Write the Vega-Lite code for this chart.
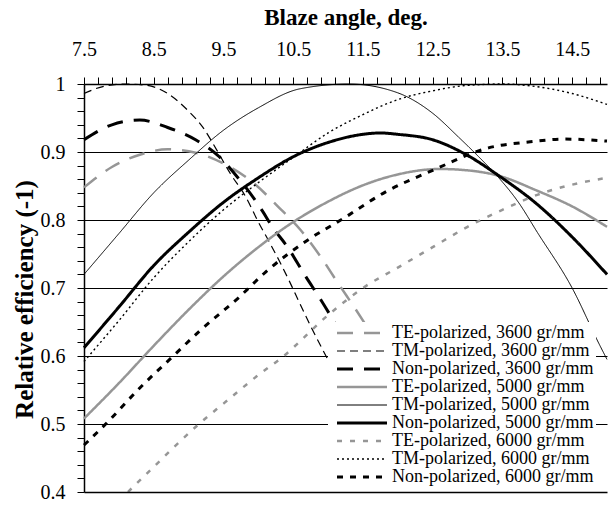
{
  "$schema": "https://vega.github.io/schema/vega-lite/v6.json",
  "width": 523,
  "height": 408,
  "autosize": {"type": "none"},
  "padding": {"left": 84, "top": 84, "right": 2, "bottom": 14},
  "background": "white",
  "config": {
    "view": {"stroke": null},
    "font": "Liberation Serif, Times New Roman, serif",
    "axis": {"domainColor": "black", "tickColor": "black", "labelColor": "black", "titleColor": "black", "labelFont": "Liberation Serif, Times New Roman, serif", "titleFont": "Liberation Serif, Times New Roman, serif"}
  },
  "data": {"values": [
    {"s": "TE-polarized, 3600 gr/mm", "angle": 7.5, "eff": 0.848},
    {"s": "TE-polarized, 3600 gr/mm", "angle": 7.9, "eff": 0.878},
    {"s": "TE-polarized, 3600 gr/mm", "angle": 8.3, "eff": 0.896},
    {"s": "TE-polarized, 3600 gr/mm", "angle": 8.7, "eff": 0.904},
    {"s": "TE-polarized, 3600 gr/mm", "angle": 9.1, "eff": 0.899},
    {"s": "TE-polarized, 3600 gr/mm", "angle": 9.5, "eff": 0.883},
    {"s": "TE-polarized, 3600 gr/mm", "angle": 9.9, "eff": 0.857},
    {"s": "TE-polarized, 3600 gr/mm", "angle": 10.3, "eff": 0.818},
    {"s": "TE-polarized, 3600 gr/mm", "angle": 10.6, "eff": 0.786},
    {"s": "TE-polarized, 3600 gr/mm", "angle": 10.9, "eff": 0.745},
    {"s": "TE-polarized, 3600 gr/mm", "angle": 11.15, "eff": 0.706},
    {"s": "TE-polarized, 3600 gr/mm", "angle": 11.4, "eff": 0.668},
    {"s": "TE-polarized, 3600 gr/mm", "angle": 11.7, "eff": 0.62},

    {"s": "TM-polarized, 3600 gr/mm", "angle": 7.5, "eff": 0.986},
    {"s": "TM-polarized, 3600 gr/mm", "angle": 7.8, "eff": 0.997},
    {"s": "TM-polarized, 3600 gr/mm", "angle": 8.1, "eff": 1.0},
    {"s": "TM-polarized, 3600 gr/mm", "angle": 8.4, "eff": 0.998},
    {"s": "TM-polarized, 3600 gr/mm", "angle": 8.7, "eff": 0.986},
    {"s": "TM-polarized, 3600 gr/mm", "angle": 9.0, "eff": 0.96},
    {"s": "TM-polarized, 3600 gr/mm", "angle": 9.2, "eff": 0.937},
    {"s": "TM-polarized, 3600 gr/mm", "angle": 9.42, "eff": 0.9},
    {"s": "TM-polarized, 3600 gr/mm", "angle": 9.6, "eff": 0.868},
    {"s": "TM-polarized, 3600 gr/mm", "angle": 9.82, "eff": 0.834},
    {"s": "TM-polarized, 3600 gr/mm", "angle": 10.0, "eff": 0.797},
    {"s": "TM-polarized, 3600 gr/mm", "angle": 10.15, "eff": 0.769},
    {"s": "TM-polarized, 3600 gr/mm", "angle": 10.3, "eff": 0.74},
    {"s": "TM-polarized, 3600 gr/mm", "angle": 10.45, "eff": 0.709},
    {"s": "TM-polarized, 3600 gr/mm", "angle": 10.6, "eff": 0.676},
    {"s": "TM-polarized, 3600 gr/mm", "angle": 10.75, "eff": 0.644},
    {"s": "TM-polarized, 3600 gr/mm", "angle": 10.97, "eff": 0.6},
    {"s": "TM-polarized, 3600 gr/mm", "angle": 11.1, "eff": 0.575},

    {"s": "Non-polarized, 3600 gr/mm", "angle": 7.5, "eff": 0.918},
    {"s": "Non-polarized, 3600 gr/mm", "angle": 7.9, "eff": 0.94},
    {"s": "Non-polarized, 3600 gr/mm", "angle": 8.3, "eff": 0.947},
    {"s": "Non-polarized, 3600 gr/mm", "angle": 8.7, "eff": 0.936},
    {"s": "Non-polarized, 3600 gr/mm", "angle": 9.1, "eff": 0.918},
    {"s": "Non-polarized, 3600 gr/mm", "angle": 9.44, "eff": 0.893},
    {"s": "Non-polarized, 3600 gr/mm", "angle": 9.66, "eff": 0.868},
    {"s": "Non-polarized, 3600 gr/mm", "angle": 9.82, "eff": 0.848},
    {"s": "Non-polarized, 3600 gr/mm", "angle": 10.06, "eff": 0.813},
    {"s": "Non-polarized, 3600 gr/mm", "angle": 10.2, "eff": 0.79},
    {"s": "Non-polarized, 3600 gr/mm", "angle": 10.42, "eff": 0.76},
    {"s": "Non-polarized, 3600 gr/mm", "angle": 10.66, "eff": 0.72},
    {"s": "Non-polarized, 3600 gr/mm", "angle": 10.9, "eff": 0.682},
    {"s": "Non-polarized, 3600 gr/mm", "angle": 11.15, "eff": 0.64},
    {"s": "Non-polarized, 3600 gr/mm", "angle": 11.4, "eff": 0.6},

    {"s": "TE-polarized, 5000 gr/mm", "angle": 7.5, "eff": 0.508},
    {"s": "TE-polarized, 5000 gr/mm", "angle": 8.0, "eff": 0.56},
    {"s": "TE-polarized, 5000 gr/mm", "angle": 8.5, "eff": 0.615},
    {"s": "TE-polarized, 5000 gr/mm", "angle": 9.0, "eff": 0.668},
    {"s": "TE-polarized, 5000 gr/mm", "angle": 9.5, "eff": 0.717},
    {"s": "TE-polarized, 5000 gr/mm", "angle": 10.0, "eff": 0.76},
    {"s": "TE-polarized, 5000 gr/mm", "angle": 10.5, "eff": 0.797},
    {"s": "TE-polarized, 5000 gr/mm", "angle": 11.0, "eff": 0.827},
    {"s": "TE-polarized, 5000 gr/mm", "angle": 11.5, "eff": 0.851},
    {"s": "TE-polarized, 5000 gr/mm", "angle": 12.0, "eff": 0.867},
    {"s": "TE-polarized, 5000 gr/mm", "angle": 12.6, "eff": 0.875},
    {"s": "TE-polarized, 5000 gr/mm", "angle": 13.0, "eff": 0.873},
    {"s": "TE-polarized, 5000 gr/mm", "angle": 13.45, "eff": 0.865},
    {"s": "TE-polarized, 5000 gr/mm", "angle": 14.0, "eff": 0.843},
    {"s": "TE-polarized, 5000 gr/mm", "angle": 14.5, "eff": 0.82},
    {"s": "TE-polarized, 5000 gr/mm", "angle": 15.0, "eff": 0.79},

    {"s": "TM-polarized, 5000 gr/mm", "angle": 7.5, "eff": 0.72},
    {"s": "TM-polarized, 5000 gr/mm", "angle": 8.0, "eff": 0.78},
    {"s": "TM-polarized, 5000 gr/mm", "angle": 8.5, "eff": 0.84},
    {"s": "TM-polarized, 5000 gr/mm", "angle": 9.0, "eff": 0.888},
    {"s": "TM-polarized, 5000 gr/mm", "angle": 9.5, "eff": 0.932},
    {"s": "TM-polarized, 5000 gr/mm", "angle": 10.0, "eff": 0.965},
    {"s": "TM-polarized, 5000 gr/mm", "angle": 10.6, "eff": 0.993},
    {"s": "TM-polarized, 5000 gr/mm", "angle": 11.3, "eff": 1.0},
    {"s": "TM-polarized, 5000 gr/mm", "angle": 12.0, "eff": 0.987},
    {"s": "TM-polarized, 5000 gr/mm", "angle": 12.5, "eff": 0.957},
    {"s": "TM-polarized, 5000 gr/mm", "angle": 12.87, "eff": 0.922},
    {"s": "TM-polarized, 5000 gr/mm", "angle": 13.16, "eff": 0.893},
    {"s": "TM-polarized, 5000 gr/mm", "angle": 13.44, "eff": 0.863},
    {"s": "TM-polarized, 5000 gr/mm", "angle": 13.73, "eff": 0.826},
    {"s": "TM-polarized, 5000 gr/mm", "angle": 14.0, "eff": 0.782},
    {"s": "TM-polarized, 5000 gr/mm", "angle": 14.5, "eff": 0.7},
    {"s": "TM-polarized, 5000 gr/mm", "angle": 14.9, "eff": 0.615},
    {"s": "TM-polarized, 5000 gr/mm", "angle": 15.0, "eff": 0.595},

    {"s": "Non-polarized, 5000 gr/mm", "angle": 7.5, "eff": 0.612},
    {"s": "Non-polarized, 5000 gr/mm", "angle": 8.0, "eff": 0.672},
    {"s": "Non-polarized, 5000 gr/mm", "angle": 8.5, "eff": 0.733},
    {"s": "Non-polarized, 5000 gr/mm", "angle": 9.0, "eff": 0.782},
    {"s": "Non-polarized, 5000 gr/mm", "angle": 9.5, "eff": 0.826},
    {"s": "Non-polarized, 5000 gr/mm", "angle": 10.0, "eff": 0.862},
    {"s": "Non-polarized, 5000 gr/mm", "angle": 10.5, "eff": 0.893},
    {"s": "Non-polarized, 5000 gr/mm", "angle": 11.0, "eff": 0.914},
    {"s": "Non-polarized, 5000 gr/mm", "angle": 11.5, "eff": 0.926},
    {"s": "Non-polarized, 5000 gr/mm", "angle": 11.75, "eff": 0.928},
    {"s": "Non-polarized, 5000 gr/mm", "angle": 12.0, "eff": 0.926},
    {"s": "Non-polarized, 5000 gr/mm", "angle": 12.5, "eff": 0.918},
    {"s": "Non-polarized, 5000 gr/mm", "angle": 13.0, "eff": 0.895},
    {"s": "Non-polarized, 5000 gr/mm", "angle": 13.45, "eff": 0.865},
    {"s": "Non-polarized, 5000 gr/mm", "angle": 14.0, "eff": 0.823},
    {"s": "Non-polarized, 5000 gr/mm", "angle": 14.5, "eff": 0.775},
    {"s": "Non-polarized, 5000 gr/mm", "angle": 15.0, "eff": 0.72},

    {"s": "TE-polarized, 6000 gr/mm", "angle": 8.13, "eff": 0.4},
    {"s": "TE-polarized, 6000 gr/mm", "angle": 8.5, "eff": 0.437},
    {"s": "TE-polarized, 6000 gr/mm", "angle": 9.16, "eff": 0.501},
    {"s": "TE-polarized, 6000 gr/mm", "angle": 9.5, "eff": 0.53},
    {"s": "TE-polarized, 6000 gr/mm", "angle": 10.0, "eff": 0.572},
    {"s": "TE-polarized, 6000 gr/mm", "angle": 10.34, "eff": 0.598},
    {"s": "TE-polarized, 6000 gr/mm", "angle": 11.0, "eff": 0.66},
    {"s": "TE-polarized, 6000 gr/mm", "angle": 11.5, "eff": 0.7},
    {"s": "TE-polarized, 6000 gr/mm", "angle": 12.0, "eff": 0.73},
    {"s": "TE-polarized, 6000 gr/mm", "angle": 12.5, "eff": 0.76},
    {"s": "TE-polarized, 6000 gr/mm", "angle": 13.0, "eff": 0.79},
    {"s": "TE-polarized, 6000 gr/mm", "angle": 13.5, "eff": 0.815},
    {"s": "TE-polarized, 6000 gr/mm", "angle": 14.0, "eff": 0.837},
    {"s": "TE-polarized, 6000 gr/mm", "angle": 14.5, "eff": 0.852},
    {"s": "TE-polarized, 6000 gr/mm", "angle": 15.0, "eff": 0.862},

    {"s": "TM-polarized, 6000 gr/mm", "angle": 7.5, "eff": 0.592},
    {"s": "TM-polarized, 6000 gr/mm", "angle": 8.0, "eff": 0.652},
    {"s": "TM-polarized, 6000 gr/mm", "angle": 8.5, "eff": 0.715},
    {"s": "TM-polarized, 6000 gr/mm", "angle": 9.0, "eff": 0.768},
    {"s": "TM-polarized, 6000 gr/mm", "angle": 9.5, "eff": 0.815},
    {"s": "TM-polarized, 6000 gr/mm", "angle": 10.0, "eff": 0.855},
    {"s": "TM-polarized, 6000 gr/mm", "angle": 10.5, "eff": 0.892},
    {"s": "TM-polarized, 6000 gr/mm", "angle": 11.0, "eff": 0.928},
    {"s": "TM-polarized, 6000 gr/mm", "angle": 11.5, "eff": 0.955},
    {"s": "TM-polarized, 6000 gr/mm", "angle": 12.0, "eff": 0.977},
    {"s": "TM-polarized, 6000 gr/mm", "angle": 12.5, "eff": 0.99},
    {"s": "TM-polarized, 6000 gr/mm", "angle": 13.0, "eff": 0.998},
    {"s": "TM-polarized, 6000 gr/mm", "angle": 13.5, "eff": 1.0},
    {"s": "TM-polarized, 6000 gr/mm", "angle": 14.0, "eff": 0.996},
    {"s": "TM-polarized, 6000 gr/mm", "angle": 14.5, "eff": 0.986},
    {"s": "TM-polarized, 6000 gr/mm", "angle": 15.0, "eff": 0.97},

    {"s": "Non-polarized, 6000 gr/mm", "angle": 7.5, "eff": 0.469},
    {"s": "Non-polarized, 6000 gr/mm", "angle": 7.85, "eff": 0.504},
    {"s": "Non-polarized, 6000 gr/mm", "angle": 8.3, "eff": 0.553},
    {"s": "Non-polarized, 6000 gr/mm", "angle": 8.77, "eff": 0.599},
    {"s": "Non-polarized, 6000 gr/mm", "angle": 9.16, "eff": 0.637},
    {"s": "Non-polarized, 6000 gr/mm", "angle": 9.73, "eff": 0.687},
    {"s": "Non-polarized, 6000 gr/mm", "angle": 10.1, "eff": 0.723},
    {"s": "Non-polarized, 6000 gr/mm", "angle": 10.73, "eff": 0.772},
    {"s": "Non-polarized, 6000 gr/mm", "angle": 11.2, "eff": 0.801},
    {"s": "Non-polarized, 6000 gr/mm", "angle": 11.82, "eff": 0.841},
    {"s": "Non-polarized, 6000 gr/mm", "angle": 12.5, "eff": 0.873},
    {"s": "Non-polarized, 6000 gr/mm", "angle": 13.3, "eff": 0.906},
    {"s": "Non-polarized, 6000 gr/mm", "angle": 13.9, "eff": 0.915},
    {"s": "Non-polarized, 6000 gr/mm", "angle": 14.4, "eff": 0.919},
    {"s": "Non-polarized, 6000 gr/mm", "angle": 15.0, "eff": 0.916}
  ]},
  "resolve": {"axis": {"x": "independent"}},
  "layer": [
    {
      "mark": {"type": "line", "interpolate": "monotone"},
      "encoding": {
        "x": {
          "field": "angle", "type": "quantitative",
          "scale": {"domain": [7.5, 15], "nice": false, "zero": false},
          "axis": {
            "orient": "top",
            "title": "Blaze angle, deg.",
            "titleFontSize": 23, "titleFontWeight": "bold",
            "titleBaseline": "alphabetic", "titleX": 261.5, "titleY": -60,
            "values": [7.5,7.7,7.9,8.1,8.3,8.5,8.7,8.9,9.1,9.3,9.5,9.7,9.9,10.1,10.3,10.5,10.7,10.9,11.1,11.3,11.5,11.7,11.9,12.1,12.3,12.5,12.7,12.9,13.1,13.3,13.5,13.7,13.9,14.1,14.3,14.5,14.7,14.9],
            "labelExpr": "abs((datum.value - 7.5) - round(datum.value - 7.5)) < 0.001 ? format(datum.value, '.1f') : ''",
            "labelFontSize": 20, "labelBaseline": "alphabetic", "labelPadding": 22,
            "labelFlush": false, "labelOverlap": false, "labelBound": false,
            "tickSize": 7, "tickWidth": 1, "domainWidth": 1.5,
            "grid": false
          }
        },
        "y": {
          "field": "eff", "type": "quantitative",
          "scale": {"domain": [0.4, 1.0], "nice": false, "zero": false},
          "axis": {
            "title": "Relative efficiency (-1)",
            "titleFontSize": 25, "titleFontWeight": "bold",
            "titleBaseline": "alphabetic", "titleX": -52, "titleY": 215,
            "values": [0.4,0.42,0.44,0.46,0.48,0.5,0.52,0.54,0.56,0.58,0.6,0.62,0.64,0.66,0.68,0.7,0.72,0.74,0.76,0.78,0.8,0.82,0.84,0.86,0.88,0.9,0.92,0.94,0.96,0.98,1.0],
            "labelExpr": "abs(datum.value * 10 - round(datum.value * 10)) < 0.001 ? format(datum.value, '.1~f') : ''",
            "labelFontSize": 20, "labelPadding": 12,
            "labelFlush": false, "labelOverlap": false, "labelBound": false,
            "tickSize": 7, "tickWidth": 1, "domainWidth": 1.5,
            "grid": true, "gridColor": "black", "gridWidth": 1,
            "gridOpacity": {"condition": {"test": "datum.value > 0.45 && datum.value < 0.95 && abs(datum.value * 10 - round(datum.value * 10)) < 0.001", "value": 1}, "value": 0}
          }
        },
        "color": {
          "field": "s", "type": "nominal",
          "scale": {
            "domain": ["TE-polarized, 3600 gr/mm", "TM-polarized, 3600 gr/mm", "Non-polarized, 3600 gr/mm", "TE-polarized, 5000 gr/mm", "TM-polarized, 5000 gr/mm", "Non-polarized, 5000 gr/mm", "TE-polarized, 6000 gr/mm", "TM-polarized, 6000 gr/mm", "Non-polarized, 6000 gr/mm"],
            "range": ["#969696", "black", "black", "#969696", "black", "black", "#969696", "black", "black"]
          },
          "legend": {
            "orient": "none", "legendX": 244, "legendY": 238,
            "title": null, "fillColor": "white", "padding": 2,
            "symbolType": "M-3.571,0H3.571", "symbolSize": 196, "symbolOffset": 23,
            "labelFont": "Liberation Serif, Times New Roman, serif", "labelFontSize": 18, "labelColor": "black",
            "labelOffset": 21, "rowPadding": 0, "labelLimit": 400, "zindex": 1
          }
        },
        "strokeDash": {
          "field": "s", "type": "nominal",
          "scale": {
            "domain": ["TE-polarized, 3600 gr/mm", "TM-polarized, 3600 gr/mm", "Non-polarized, 3600 gr/mm", "TE-polarized, 5000 gr/mm", "TM-polarized, 5000 gr/mm", "Non-polarized, 5000 gr/mm", "TE-polarized, 6000 gr/mm", "TM-polarized, 6000 gr/mm", "Non-polarized, 6000 gr/mm"],
            "range": [[16, 11], [8, 5], [16, 11], [1, 0], [1, 0], [1, 0], [5, 8], [2, 3], [6, 7]]
          },
          "legend": {"title": null}
        },
        "strokeWidth": {
          "field": "s", "type": "nominal",
          "scale": {
            "type": "ordinal",
            "domain": ["TE-polarized, 3600 gr/mm", "TM-polarized, 3600 gr/mm", "Non-polarized, 3600 gr/mm", "TE-polarized, 5000 gr/mm", "TM-polarized, 5000 gr/mm", "Non-polarized, 5000 gr/mm", "TE-polarized, 6000 gr/mm", "TM-polarized, 6000 gr/mm", "Non-polarized, 6000 gr/mm"],
            "range": [2.5, 1.2, 3, 2.5, 1, 3, 2.5, 1.4, 3]
          },
          "legend": {"title": null}
        }
      }
    },
    {
      "mark": {"type": "point", "opacity": 0},
      "encoding": {
        "x": {
          "field": "angle", "type": "quantitative",
          "axis": {"orient": "bottom", "title": null, "labels": false, "ticks": false, "grid": false, "domainColor": "black", "domainWidth": 1.5, "zindex": 2}
        }
      }
    }
  ]
}
